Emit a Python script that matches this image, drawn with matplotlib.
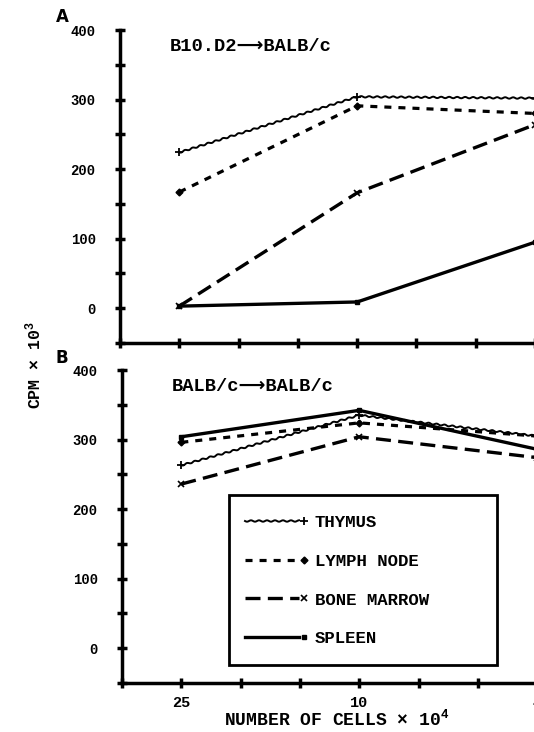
import numpy as np
import matplotlib
matplotlib.use("Agg")
import matplotlib.pyplot as plt
from matplotlib.lines import Line2D
from matplotlib.patches import Rectangle
from matplotlib.legend_handler import HandlerLine2D

# x positions on the cell-number axis (25, 10, 4 x 10^4 cells)
x_pos = [1, 4, 7]
x_labels = ["25", "10", "4"]

# panel A: B10.D2 -> BALB/c
a_thymus = [224, 304, 302]
a_lymph = [167, 291, 280]
a_marrow = [3, 166, 264]
a_spleen = [3, 9, 95]

# panel B: BALB/c -> BALB/c
b_thymus = [263, 335, 305]
b_lymph = [296, 324, 305]
b_marrow = [236, 304, 274]
b_spleen = [304, 342, 286]

names = ["THYMUS", "LYMPH NODE", "BONE MARROW", "SPLEEN"]

mono = ["Liberation Mono", "DejaVu Sans"]
plt.rcParams["font.family"] = mono
plt.rcParams["font.weight"] = "bold"
plt.rcParams["mathtext.fontset"] = "custom"
plt.rcParams["mathtext.rm"] = "Liberation Mono:bold"
plt.rcParams["mathtext.it"] = "Liberation Mono:bold"

styles = [
    dict(ls="-", lw=1.4, marker="+", ms=6, mew=1.3),
    dict(ls=(0, (2.2, 2.2)), lw=2.3, marker="D", ms=3.5),
    dict(ls=(0, (4.5, 2.2)), lw=2.4, marker="x", ms=4, mew=1.2),
    dict(ls="-", lw=2.4, marker="s", ms=3.5),
]
wavy = (0.7, 8.0, 1.0)


class EndMarker(HandlerLine2D):
    # line first, marker at its right end
    def create_artists(self, legend, orig_handle, xdescent, ydescent,
                       width, height, fontsize, trans):
        y = (height - ydescent) / 2
        line = Line2D([-xdescent, -xdescent + width], [y, y])
        self.update_prop(line, orig_handle, legend)
        line.set_marker("None")
        if orig_handle.get_sketch_params():
            line.set_sketch_params(*orig_handle.get_sketch_params())
        mk = Line2D([-xdescent + width + 4], [y])
        self.update_prop(mk, orig_handle, legend)
        mk.set_linestyle("None")
        mk.set_sketch_params(None)
        line.set_transform(trans)
        mk.set_transform(trans)
        return [line, mk]


fig = plt.figure(figsize=(5.34, 7.32), dpi=100)
W, H = 534.0, 732.0
unit = 59.3

def make_axes(left, top, bottom):
    ax = fig.add_axes([left / W, 1 - bottom / H, 8 * unit / W, (bottom - top) / H])
    ax.set_xlim(0, 8)
    ax.set_ylim(-50, 400)
    for s in ["top", "right"]:
        ax.spines[s].set_visible(False)
    for s in ["left", "bottom"]:
        ax.spines[s].set_linewidth(2.5)
    ax.set_yticks([0, 100, 200, 300, 400])
    ax.set_yticks(np.arange(-50, 400, 50), minor=True)
    ax.set_xticks(np.arange(0, 9, 1))
    ax.tick_params(which="both", direction="inout", length=7, width=2.5, labelsize=10, pad=14)
    ax.tick_params(axis="x", pad=6, labelsize=11)
    return ax

axA = make_axes(120, 30, 343)
axB = make_axes(122, 370, 683)

for ax, series in [(axA, [a_thymus, a_lymph, a_marrow, a_spleen]),
                   (axB, [b_thymus, b_lymph, b_marrow, b_spleen])]:
    for i, (vals, st, nm) in enumerate(zip(series, styles, names)):
        ln, = ax.plot(x_pos, vals, color="black", clip_on=False, label=nm, **st)
        if i == 0:
            # thymus curve is drawn with a wavy stroke
            ln.set_sketch_params(*wavy)

axA.set_xticklabels([])
axB.set_xticklabels(["" if i not in x_pos else x_labels[x_pos.index(i)] for i in range(9)])

axA.text(0.105, 0.946, "B10.D2\u27f6BALB/c", transform=axA.transAxes, fontsize=13.5, va="center")
axB.text(0.105, 0.946, "BALB/c\u27f6BALB/c", transform=axB.transAxes, fontsize=13.5, va="center")

# legend box
axB.add_patch(Rectangle((0.2257, 0.0575), 0.5654, 0.543, transform=axB.transAxes,
                        fill=True, facecolor="white", edgecolor="black", lw=2, zorder=5))
leg = axB.legend(loc="upper left", bbox_to_anchor=(0.2595, 0.536), handler_map={Line2D: EndMarker()},
                 handlelength=3.1, handletextpad=0.9, labelspacing=1.35, borderpad=0,
                 frameon=False, fontsize=12.5, borderaxespad=0)
leg.set_zorder(6)

fig.text(62 / W, 1 - 17 / H, "A", family="DejaVu Sans", fontweight="bold", fontsize=12, ha="center", va="center")
fig.text(62 / W, 1 - 358 / H, "B", family="DejaVu Sans", fontweight="bold", fontsize=12, ha="center", va="center")

fig.text(34 / W, 1 - 365 / H, "CPM \u00d7 10$^{3}$", rotation=90, fontsize=12, ha="center", va="center")
fig.text(337 / W, 1 - 719 / H, "NUMBER OF CELLS \u00d7 10$^{4}$", fontsize=13, ha="center", va="center")

fig.savefig("out.png", dpi=100)
